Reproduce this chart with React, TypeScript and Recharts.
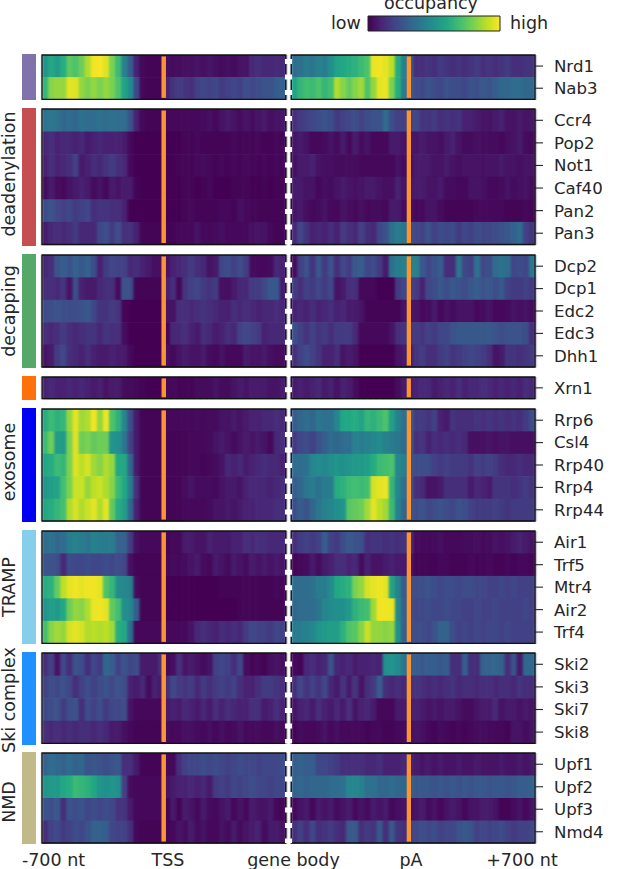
import React from "react";
import { ScatterChart, Scatter, XAxis, YAxis, ReferenceArea, ReferenceLine } from "recharts";

// Occupancy, 0 (low) .. 100 (high); 40 bins per side of each row.
const nrd1L = [52,60,55,62,75,72,78,88,98,99,95,80,68,45,30,10,3,2,2,2,5,4,4,5,5,6,5,7,5,4,5,4,6,6,12,14,12,12,13,12];
const nrd1R = [36,38,42,40,44,42,50,58,60,62,64,68,72,97,98,96,90,62,44,30,14,14,16,14,18,16,14,16,14,16,18,14,16,14,16,18,14,14,16,16];
const nab3L = [66,82,84,84,96,95,84,80,84,80,84,80,72,58,48,22,3,2,2,2,10,16,18,16,14,20,22,20,22,18,20,22,20,24,22,24,26,26,30,32];
const nab3R = [58,66,70,68,72,66,70,88,82,76,82,86,72,84,96,97,80,62,42,28,24,22,26,24,22,26,24,24,22,26,24,28,26,30,34,34,36,36,34,34];
const ccr4L = [38,40,38,34,36,34,38,36,36,38,36,38,36,36,26,10,3,2,2,2,3,3,3,3,3,3,4,5,3,6,8,6,4,6,4,6,8,5,6,7];
const ccr4R = [14,18,20,22,24,26,24,18,20,22,24,20,24,26,26,36,24,20,20,20,22,16,16,18,14,16,14,16,10,10,8,6,6,8,10,6,6,8,6,7];
const pop2L = [12,14,10,12,12,10,12,8,10,12,10,10,10,8,3,1,1,1,1,1,1,1,1,2,2,3,2,2,2,2,2,3,2,2,2,3,2,2,3,2];
const pop2R = [6,8,6,3,3,4,6,4,8,3,8,4,6,3,3,3,8,8,6,6,6,8,6,6,5,8,10,6,4,4,5,4,4,4,3,5,6,8,4,3];
const not1L = [10,14,10,12,14,20,8,10,14,12,16,18,14,12,3,1,1,1,1,1,1,1,2,2,2,3,4,3,2,3,2,3,2,3,2,2,3,2,3,2];
const not1R = [5,8,8,10,6,5,5,4,4,4,4,3,3,3,3,3,3,6,4,4,8,8,8,6,6,8,6,5,6,6,6,5,6,6,8,6,6,5,6,6];
const caf40L = [4,8,4,3,6,8,10,8,4,6,3,8,6,8,8,2,1,1,1,1,1,1,1,2,2,1,2,3,1,1,1,2,2,2,1,1,2,1,2,2];
const caf40R = [8,8,6,6,3,5,4,6,8,6,5,6,8,8,6,5,5,10,6,6,8,8,6,6,8,4,4,3,3,6,6,5,3,3,4,6,4,5,6,4];
const pan2L = [24,26,22,20,22,18,20,22,14,16,16,14,14,10,1,1,1,1,1,1,1,1,1,2,3,2,2,2,2,3,3,2,5,3,2,2,2,2,2,2];
const pan2R = [6,8,5,3,4,6,3,3,6,4,3,5,3,4,4,3,8,8,4,4,3,3,6,6,4,2,2,2,2,2,3,3,3,3,3,2,2,2,3,2];
const pan3L = [8,12,14,12,14,18,12,12,12,22,25,18,24,14,15,10,2,2,2,2,2,2,3,3,3,6,3,3,4,5,3,3,3,3,5,6,6,3,2,2];
const pan3R = [12,22,16,10,12,10,14,10,18,14,12,20,14,12,22,26,38,42,40,24,22,20,26,20,24,22,24,18,22,20,24,22,22,24,26,28,32,36,20,16];
const dcp2L = [12,14,26,30,26,32,28,32,24,10,18,22,20,20,12,14,10,8,5,5,6,10,12,14,18,14,12,6,8,22,24,20,24,18,4,3,3,4,12,10];
const dcp2R = [4,20,26,16,28,18,26,14,22,18,28,30,22,24,18,8,38,42,44,44,44,28,22,26,30,14,14,40,22,20,38,22,24,36,38,36,22,24,22,40];
const dcp1L = [14,14,12,16,6,24,10,8,8,12,14,14,4,26,24,2,2,2,2,2,10,14,3,16,20,22,18,16,18,5,5,8,12,12,18,18,22,28,28,8];
const dcp1R = [18,14,20,18,22,18,22,6,8,14,14,3,3,3,1,1,1,18,22,20,18,10,22,24,28,24,28,26,24,28,30,26,28,24,28,20,18,18,20,18];
const edc2L = [24,24,26,24,24,24,26,28,22,16,16,18,16,2,1,1,1,1,1,1,6,6,14,14,12,14,16,14,12,10,10,14,12,14,12,10,12,12,14,12];
const edc2R = [10,12,10,14,10,12,14,10,12,8,8,6,2,2,2,2,2,2,6,6,6,3,4,8,3,6,4,6,6,6,3,4,6,3,3,4,6,5,6,4];
const edc3L = [14,12,14,18,14,12,14,16,16,12,16,14,14,4,1,1,1,1,1,1,2,12,12,14,10,8,14,12,8,10,14,12,20,22,20,18,10,12,12,12];
const edc3R = [24,20,16,20,16,18,14,18,18,18,12,3,3,3,3,3,6,14,16,16,18,16,20,18,22,22,26,28,28,28,28,28,28,26,24,26,26,26,24,14];
const dhh1L = [6,8,18,22,14,12,10,14,10,8,8,10,8,8,3,1,1,1,1,1,5,3,6,8,6,6,8,4,3,6,3,3,3,8,6,6,8,5,4,4];
const dhh1R = [14,20,24,20,16,10,10,14,6,8,6,1,1,1,1,1,1,6,8,8,16,18,14,14,18,20,16,18,20,22,20,18,14,6,8,16,16,14,16,18];
const xrn1L = [10,12,10,10,12,10,12,10,8,10,6,8,8,4,4,3,2,1,1,1,3,3,2,2,2,4,4,4,6,4,4,6,8,6,8,8,8,6,6,8];
const xrn1R = [8,10,8,10,12,8,10,6,10,8,4,1,1,1,1,1,1,4,8,8,10,12,12,8,10,12,10,14,10,12,12,14,12,10,12,10,12,10,14,12];
const rrp6L = [62,68,64,66,84,96,86,88,98,84,97,72,64,46,24,8,2,2,2,2,3,3,3,3,3,4,3,4,4,6,6,8,6,8,10,10,12,12,14,12];
const rrp6R = [30,34,36,34,40,38,38,46,60,60,62,58,66,64,68,72,56,44,38,30,18,18,16,20,10,8,16,14,14,14,16,14,16,14,16,14,16,14,18,24];
const csl4L = [68,78,55,54,80,95,78,80,76,78,78,52,50,40,20,8,2,2,2,2,2,2,2,2,3,3,3,4,6,8,6,4,6,8,6,8,6,3,12,14];
const csl4R = [18,22,24,20,26,30,36,34,36,36,44,42,44,46,48,44,42,40,36,30,14,16,10,14,12,14,12,14,12,5,5,5,6,5,6,6,5,5,5,5];
const rrp40L = [60,62,68,66,80,95,90,94,86,82,88,84,60,60,34,8,2,2,2,2,2,2,2,2,3,3,2,3,4,6,12,10,12,8,10,12,14,12,12,10];
const rrp40R = [36,36,38,46,48,46,50,52,50,52,54,54,56,62,68,70,72,46,44,26,24,24,24,20,18,20,18,18,18,16,20,18,20,18,14,12,12,14,12,12];
const rrp4L = [52,56,58,70,80,92,92,84,90,92,88,82,68,60,42,14,2,2,2,2,2,2,2,4,6,4,4,4,3,6,8,8,6,10,12,12,12,10,12,14];
const rrp4R = [30,34,40,42,38,42,42,62,64,68,70,68,70,94,96,97,66,46,38,28,14,12,6,6,8,14,14,14,14,8,12,10,8,16,16,16,14,16,18,16];
const rrp44L = [60,62,66,70,88,94,88,92,96,88,96,76,62,56,34,10,2,2,2,2,2,2,2,3,3,3,3,4,6,6,8,6,8,10,10,12,12,12,14,14];
const rrp44R = [24,30,26,34,40,44,46,50,52,74,76,78,86,96,90,86,68,44,34,26,24,26,22,24,26,24,22,26,24,20,18,18,18,20,18,16,18,18,18,18];
const air1L = [36,38,34,36,42,44,42,40,44,42,42,42,32,32,18,5,3,3,3,3,2,3,3,8,8,6,6,10,8,8,8,10,10,14,12,14,14,12,12,12];
const air1R = [14,18,20,18,20,30,20,18,24,28,26,24,14,16,16,14,16,14,16,14,4,3,3,4,5,3,3,3,4,4,5,3,4,6,5,6,8,10,8,6];
const trf5L = [26,26,24,12,24,22,22,24,22,22,24,22,24,22,5,2,2,2,2,2,3,4,3,4,6,8,4,3,8,6,4,8,6,4,8,6,8,6,8,6];
const trf5R = [2,3,4,8,4,8,10,14,14,10,12,4,10,6,6,8,10,8,8,6,2,2,2,2,3,3,2,2,2,3,2,2,3,2,2,3,2,3,3,2];
const mtr4L = [62,64,76,90,96,98,96,98,98,96,72,66,48,46,44,4,2,2,2,2,1,1,1,1,1,1,1,1,1,2,2,2,2,2,2,2,2,2,3,2];
const mtr4R = [36,36,36,38,42,42,48,60,62,64,80,84,94,96,98,96,58,44,30,24,24,24,26,24,22,24,24,22,24,24,22,22,20,20,22,20,22,20,20,20];
const air2L = [52,56,54,60,78,84,82,88,97,98,96,76,70,50,46,30,2,2,2,2,1,1,1,1,1,1,1,1,1,1,1,1,2,2,2,2,2,2,2,2];
const air2R = [34,36,36,36,40,46,48,50,50,54,64,68,70,86,98,98,97,46,32,24,22,22,24,22,22,24,22,22,20,20,22,20,20,22,20,20,20,20,22,20];
const trf4L = [70,82,86,84,94,96,94,88,90,88,90,86,62,60,36,3,3,3,3,3,3,3,3,3,6,12,14,12,10,14,12,14,12,18,22,20,20,18,22,20];
const trf4R = [42,42,44,46,52,54,56,56,64,72,74,82,92,84,84,82,84,50,32,24,24,24,22,26,32,32,24,20,22,20,22,20,22,22,20,22,20,20,20,20];
const ski2L = [14,20,6,22,14,26,24,14,22,18,34,30,20,26,22,24,8,8,8,14,3,5,14,6,8,6,4,6,20,22,20,14,22,4,2,3,2,5,6,5];
const ski2R = [3,2,12,14,10,12,26,12,10,12,8,10,10,12,10,50,52,48,40,30,30,28,30,30,28,30,14,14,30,14,14,32,32,34,32,14,26,8,34,34];
const ski3L = [20,24,22,26,22,14,20,24,20,24,26,22,26,24,10,8,12,4,10,8,14,22,18,16,18,12,18,14,18,20,18,20,14,10,10,14,18,18,16,14];
const ski3R = [14,22,16,20,16,22,12,8,16,8,16,6,14,18,30,14,12,14,12,14,16,14,12,14,12,14,16,12,14,14,12,14,14,12,14,14,12,16,14,14];
const ski7L = [22,24,26,18,24,26,14,24,20,24,18,22,22,24,6,3,3,3,3,3,8,10,8,12,10,8,12,8,14,10,14,12,10,10,14,14,8,10,14,10];
const ski7R = [6,10,12,8,14,10,8,12,8,14,6,10,12,8,3,3,3,8,8,8,10,8,6,8,6,8,8,6,4,4,6,8,8,12,6,8,8,6,8,6];
const ski8L = [14,12,14,12,14,12,14,14,12,14,12,8,8,5,3,2,2,2,2,2,4,3,3,5,5,4,3,5,3,5,3,4,6,3,3,4,3,3,5,3];
const ski8R = [2,4,3,3,4,6,3,5,3,3,3,3,2,3,3,2,2,3,4,4,6,5,3,2,4,3,2,3,2,3,4,4,3,3,3,2,6,6,4,6];
const upf1L = [32,36,34,32,36,32,34,26,28,26,24,26,28,14,14,8,2,2,2,2,3,3,14,20,22,22,24,22,24,22,20,22,24,22,22,20,22,22,22,24];
const upf1R = [30,32,30,30,22,22,20,18,14,14,14,14,12,12,14,10,10,10,12,10,8,6,8,6,8,6,6,8,6,6,8,6,6,6,8,6,6,8,6,8];
const upf2L = [52,54,54,60,62,68,66,64,60,52,50,52,50,20,4,3,3,3,3,3,6,8,10,10,12,10,12,8,18,20,18,22,20,22,24,22,22,20,22,22];
const upf2R = [32,34,32,34,34,34,36,36,38,46,46,44,38,38,34,34,36,34,34,30,28,28,28,26,28,26,28,26,28,26,28,28,26,28,28,26,28,30,30,32];
const upf3L = [26,24,28,14,26,24,26,22,24,22,24,22,16,16,8,3,3,3,3,3,2,8,2,8,6,3,8,4,3,6,8,3,6,3,8,6,6,8,3,2];
const upf3R = [3,6,8,3,8,6,8,4,6,8,3,6,4,8,6,8,3,5,6,4,6,8,4,6,3,6,8,6,3,6,6,8,8,6,2,2,4,6,3,6];
const nmd4L = [14,20,22,18,20,24,22,26,32,32,30,22,20,20,14,3,2,2,2,2,2,3,6,4,8,4,6,3,3,6,4,8,4,6,8,10,4,8,8,6];
const nmd4R = [14,20,14,22,14,16,18,14,12,28,28,14,18,16,28,14,28,16,14,20,22,24,22,24,20,22,22,26,28,26,20,22,20,22,24,20,18,20,20,22];

const panels = [
  { top: 55, bottom: 99.3, bar: "#8073ac", firstDash: 6.7, names: ["Nrd1", "Nab3"], left: [nrd1L, nab3L], right: [nrd1R, nab3R] },
  { top: 109, bottom: 244.5, bar: "#c44e52", firstDash: 2, names: ["Ccr4", "Pop2", "Not1", "Caf40", "Pan2", "Pan3"], left: [ccr4L, pop2L, not1L, caf40L, pan2L, pan3L], right: [ccr4R, pop2R, not1R, caf40R, pan2R, pan3R] },
  { top: 254.7, bottom: 366.7, bar: "#55a868", firstDash: 9.3, names: ["Dcp2", "Dcp1", "Edc2", "Edc3", "Dhh1"], left: [dcp2L, dcp1L, edc2L, edc3L, dhh1L], right: [dcp2R, dcp1R, edc2R, edc3R, dhh1R] },
  { top: 377, bottom: 398.7, bar: "#ff7108", firstDash: 9, names: ["Xrn1"], left: [xrn1L], right: [xrn1R] },
  { top: 408.7, bottom: 520.7, bar: "#0000f5", firstDash: 9, names: ["Rrp6", "Csl4", "Rrp40", "Rrp4", "Rrp44"], left: [rrp6L, csl4L, rrp40L, rrp4L, rrp44L], right: [rrp6R, csl4R, rrp40R, rrp4R, rrp44R] },
  { top: 531, bottom: 643.3, bar: "#87ceeb", firstDash: 9, names: ["Air1", "Trf5", "Mtr4", "Air2", "Trf4"], left: [air1L, trf5L, mtr4L, air2L, trf4L], right: [air1R, trf5R, mtr4R, air2R, trf4R] },
  { top: 653.3, bottom: 743.7, bar: "#1e90ff", firstDash: 2, names: ["Ski2", "Ski3", "Ski7", "Ski8"], left: [ski2L, ski3L, ski7L, ski8L], right: [ski2R, ski3R, ski7R, ski8R] },
  { top: 753.3, bottom: 843.3, bar: "#c1b98a", firstDash: 2, names: ["Upf1", "Upf2", "Upf3", "Nmd4"], left: [upf1L, upf2L, upf3L, nmd4L], right: [upf1R, upf2R, upf3R, nmd4R] },
];

const groupLabels = [
  { text: "deadenylation", y: 174 },
  { text: "decapping", y: 311 },
  { text: "exosome", y: 462 },
  { text: "TRAMP", y: 587 },
  { text: "Ski complex", y: 700 },
  { text: "NMD", y: 802 },
];

const bottomTicks = [53.5, 168, 293.5, 411, 522];
const bottomLabels = ["-700 nt", "TSS", "gene body", "pA", "+700 nt"];

const viridis = ["#440154", "#482475", "#414487", "#355f8d", "#2a788e", "#21918c", "#22a884", "#44bf70", "#7ad151", "#bddf26", "#fde725"];

const FONT = "'DejaVu Sans', sans-serif";
const TEXT = "#262626";
const FS = 16.6;
const FS_BIG = 17.5;
const BINS = 40;
const GAP = 0.9;
const DOMAIN = BINS * 2 + GAP;
const PLOT_W = 493;
const AXIS_W = 82;
const PAD = 2;

function hex(c: string) {
  return [1, 3, 5].map((i) => parseInt(c.slice(i, i + 2), 16));
}
function colour(v: number) {
  const t = Math.max(0, Math.min(0.9999, (v - 1) / 99)) * (viridis.length - 1);
  const i = Math.floor(t);
  const a = hex(viridis[i]);
  const b = hex(viridis[i + 1]);
  const f = t - i;
  return `rgb(${a.map((x, k) => Math.round(x + (b[k] - x) * f)).join(",")})`;
}

function Panel({ p }: { p: (typeof panels)[number] }) {
  const n = p.names.length;
  const h = p.bottom - p.top;
  const cw = PLOT_W / DOMAIN;
  const ch = h / n;
  const cells: { x: number; y: number; v: number }[] = [];
  p.left.forEach((row, r) => row.forEach((v, i) => cells.push({ x: i + 0.5, y: r + 0.5, v })));
  p.right.forEach((row, r) => row.forEach((v, i) => cells.push({ x: BINS + GAP + i + 0.5, y: r + 0.5, v })));
  const inset = 1.4 / ch;
  const ticks = p.names.map((_, i) => i + 0.5);
  return (
    <div style={{ position: "absolute", left: 42 - PAD, top: p.top - PAD }}>
      <ScatterChart
        width={PLOT_W + AXIS_W + PAD}
        height={h + PAD * 2}
        margin={{ top: PAD, bottom: PAD, left: PAD, right: 0 }}
      >
        <XAxis type="number" dataKey="x" domain={[0, DOMAIN]} hide />
        <YAxis
          type="number"
          dataKey="y"
          orientation="right"
          width={AXIS_W}
          domain={[0, n]}
          reversed
          ticks={ticks}
          interval={0}
          axisLine={false}
          tickSize={8}
          tickMargin={11}
          tickLine={{ stroke: TEXT, strokeWidth: 1.1 }}
          tick={{ fill: TEXT, fontSize: FS, fontFamily: FONT, textAnchor: "start" }}
          tickFormatter={(v: number) => p.names[Math.floor(v)]}
        />
        <Scatter
          data={cells}
          isAnimationActive={false}
          shape={(s: any) => (
            <rect
              x={s.cx - cw / 2}
              y={s.cy - ch / 2}
              width={cw + 0.6}
              height={ch + 0.6}
              fill={colour(s.payload.v)}
            />
          )}
        />
        <ReferenceArea x1={19.6} x2={20.34} y1={inset} y2={n - inset} fill="#fb9531" fillOpacity={1} stroke="none" zIndex={1000} />
        <ReferenceArea x1={59.85} x2={60.55} y1={inset} y2={n - inset} fill="#fb9531" fillOpacity={1} stroke="none" zIndex={1000} />
        <ReferenceArea x1={0} x2={BINS} y1={0} y2={n} fill="none" stroke="#111" strokeWidth={1.3} zIndex={1001} />
        <ReferenceArea x1={BINS + GAP} x2={DOMAIN} y1={0} y2={n} fill="none" stroke="#111" strokeWidth={1.3} zIndex={1001} />
        <ReferenceLine
          x={BINS + GAP / 2}
          stroke="#fff"
          strokeWidth={7}
          strokeDasharray="5 10.5"
          strokeDashoffset={2.5 - p.firstDash}
          zIndex={1002}
        />
      </ScatterChart>
    </div>
  );
}

function Colorbar() {
  return (
    <div style={{ position: "absolute", left: 367, top: 15 }}>
      <ScatterChart width={134} height={17} margin={{ top: 1, bottom: 1, left: 1, right: 1 }}>
        <defs>
          <linearGradient id="viridisRamp" x1="0" y1="0" x2="1" y2="0">
            {viridis.map((c, i) => (
              <stop key={c} offset={i / (viridis.length - 1)} stopColor={c} />
            ))}
          </linearGradient>
        </defs>
        <XAxis type="number" dataKey="x" domain={[0, 1]} hide />
        <YAxis type="number" dataKey="y" domain={[0, 1]} hide width={0} />
        <Scatter data={[{ x: 0, y: 0 }, { x: 1, y: 1 }]} isAnimationActive={false} shape={() => <g />} />
        <ReferenceArea x1={0} x2={1} y1={0} y2={1} fill="url(#viridisRamp)" fillOpacity={1} stroke="#222" strokeWidth={1} zIndex={1000} />
      </ScatterChart>
    </div>
  );
}

function BottomAxis() {
  return (
    <div style={{ position: "absolute", left: 0, top: 850 }}>
      <ScatterChart width={617} height={19} margin={{ top: 0, bottom: 0, left: 0, right: 0 }}>
        <XAxis
          type="number"
          dataKey="x"
          domain={[0, 617]}
          ticks={bottomTicks}
          interval={0}
          height={18}
          axisLine={false}
          tickLine={false}
          tickSize={0}
          tickMargin={3}
          tick={{ fill: TEXT, fontSize: FS_BIG, fontFamily: FONT }}
          tickFormatter={(v: number) => bottomLabels[bottomTicks.indexOf(v)]}
        />
        <YAxis type="number" dataKey="y" domain={[0, 1]} hide width={0} />
        <Scatter data={bottomTicks.map((x) => ({ x, y: 0 }))} isAnimationActive={false} shape={() => <g />} />
      </ScatterChart>
    </div>
  );
}

const textStyle: React.CSSProperties = { position: "absolute", fontFamily: FONT, fontSize: FS_BIG, color: TEXT, whiteSpace: "nowrap", lineHeight: "16px" };

export default function App() {
  return (
    <div style={{ position: "absolute", left: 0, top: 0, width: 617, height: 869, overflow: "hidden", background: "#fff" }}>
      <style>{`.recharts-scatter{filter:url(#soften)}`}</style>
      <svg width={0} height={0} style={{ position: "absolute" }}>
        <filter id="soften" x="-1%" y="-1%" width="102%" height="102%" colorInterpolationFilters="sRGB">
          <feGaussianBlur stdDeviation="1.3 0.3" />
        </filter>
      </svg>
      <div style={{ ...textStyle, left: 431, top: 0, transform: "translateX(-50%)", lineHeight: "6px" }}>occupancy</div>
      <div style={{ ...textStyle, left: 331, top: 15 }}>low</div>
      <div style={{ ...textStyle, left: 510, top: 15 }}>high</div>
      <Colorbar />
      {panels.map((p) => (
        <div
          key={p.bar}
          style={{ position: "absolute", left: 22, width: 13.5, top: p.top - 1, height: p.bottom - p.top + 2, background: p.bar }}
        />
      ))}
      {groupLabels.map((g) => (
        <div key={g.text} style={{ ...textStyle, left: 9, top: g.y, transform: "translate(-50%,-50%) rotate(-90deg)" }}>
          {g.text}
        </div>
      ))}
      {panels.map((p) => (
        <Panel key={p.names[0]} p={p} />
      ))}
      <BottomAxis />
    </div>
  );
}
